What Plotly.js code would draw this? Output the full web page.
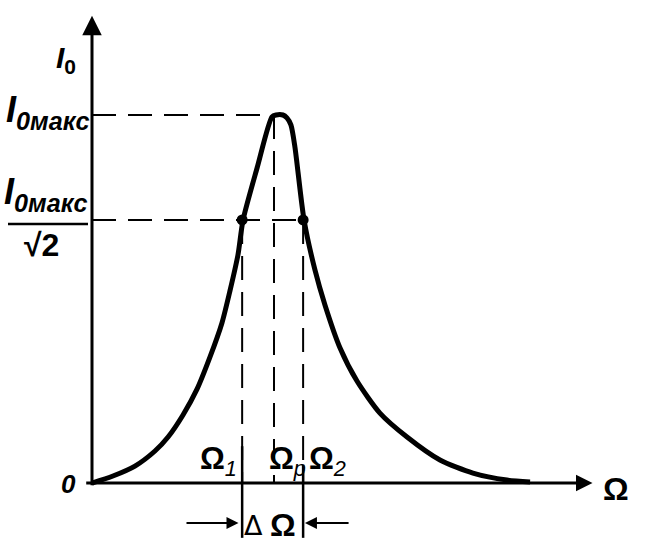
<!DOCTYPE html>
<html>
<head>
<meta charset="utf-8">
<script src="https://cdn.plot.ly/plotly-3.0.1.min.js"></script>
<style>html,body{margin:0;padding:0;background:#fff}#chart{width:645px;height:554px}</style>
</head>
<body>
<div id="chart"></div>
<script>
// Resonance curve I0(Ω) (Ω in units of Ωp, I0 in units of I0max)
var omega = [0, 0.115, 0.236, 0.346, 0.418, 0.500, 0.577, 0.648, 0.714, 0.758, 0.802, 0.830, 0.907, 0.989, 1.011, 1.049, 1.071, 1.093, 1.115, 1.165, 1.225, 1.280, 1.363, 1.456, 1.582, 1.731, 1.912, 2.093, 2.280, 2.407];
var current = [0, 0.019, 0.046, 0.087, 0.125, 0.185, 0.255, 0.342, 0.435, 0.522, 0.620, 0.715, 0.856, 0.995, 1.0, 1.0, 0.992, 0.973, 0.913, 0.715, 0.579, 0.484, 0.367, 0.277, 0.190, 0.125, 0.0625, 0.027, 0.008, 0.003];

var omega1 = 0.825;      // Ω1
var omegaRes = 1.0;      // Ωp
var omega2 = 1.160;      // Ω2
var iMax = 1.0;          // I0max
var iHalf = 0.715;       // I0max/√2
var xAxisEnd = 2.75;
var yAxisEnd = 1.27;
var lowerMark = -0.149;  // bottom of ΔΩ marks
var deltaY = -0.109;     // level of ΔΩ arrows

var W = 645, H = 554;
var fontFam = 'Liberation Sans, Arial, sans-serif';
var black = '#000';

var traces = [
  {x: omega, y: current, mode: 'lines', line: {color: black, width: 5, shape: 'spline', smoothing: 0.7}, hoverinfo: 'skip'},
  {x: [omega1, omega2], y: [iHalf, iHalf], mode: 'markers', marker: {color: black, size: 11}, hoverinfo: 'skip'}
];

var dash = '24px,12px';
var shapes = [
  {type: 'line', x0: 0, x1: 0.99, y0: iMax, y1: iMax, line: {color: black, width: 2, dash: dash}},
  {type: 'line', x0: 0, x1: omega2, y0: iHalf, y1: iHalf, line: {color: black, width: 2, dash: dash}},
  {type: 'line', x0: omegaRes, x1: omegaRes, y0: iMax, y1: 0, line: {color: black, width: 2, dash: dash}},
  {type: 'line', x0: omega1, x1: omega1, y0: iHalf, y1: 0, line: {color: black, width: 2, dash: dash}},
  {type: 'line', x0: omega2, x1: omega2, y0: iHalf, y1: 0, line: {color: black, width: 2, dash: dash}},
  {type: 'line', x0: omega1, x1: omega1, y0: 0.1, y1: lowerMark, line: {color: black, width: 2.5}},
  {type: 'line', x0: omega2, x1: omega2, y0: 0.05, y1: lowerMark, line: {color: black, width: 2.5}},
  {type: 'line', xref: 'paper', yref: 'paper', x0: 8 / W, x1: 88 / W, y0: 1 - 224 / H, y1: 1 - 224 / H, line: {color: black, width: 2.5}}
];

function arrow(xt, yt, xs, ys, w, size) {
  return {x: xt, y: yt, ax: xs, ay: ys, xref: 'x', yref: 'y', axref: 'x', ayref: 'y',
    text: '', showarrow: true, arrowhead: 2, arrowsize: size, arrowwidth: w, arrowcolor: black, standoff: 0};
}
function label(px, py, txt, size, anchor, fam) {
  return {x: px / W, y: 1 - py / H, xref: 'paper', yref: 'paper', text: txt, showarrow: false,
    xanchor: anchor || 'center', yanchor: 'middle', font: {family: fam || fontFam, size: size, color: black}};
}

var annotations = [
  arrow(0, yAxisEnd, 0, -0.01, 3, 1.3),
  arrow(xAxisEnd, 0, -0.04, 0, 3, 1.1),
  arrow(omega1 - 0.02, deltaY, 0.511, deltaY, 2, 1.2),
  arrow(omega2 + 0.01, deltaY, 1.418, deltaY, 2, 1.2),
  label(66, 60, '<b><i>I</i><sub>0</sub></b>', 30),
  label(91, 112, '<b><i>I</i><sub><i>0макс</i></sub></b>', 36, 'right'),
  label(89, 194, '<b><i>I</i><sub><i>0макс</i></sub></b>', 36, 'right'),
  label(41, 245, '<b>√2</b>', 32),
  label(68, 484, '<b><i>0</i></b>', 26),
  label(616, 489, '<b>Ω</b>', 32),
  label(218, 461, '<b>Ω</b><sub><i>1</i></sub>', 31),
  label(287, 461, '<b>Ω</b><sub><i>p</i></sub>', 31),
  label(327, 461, '<b>Ω</b><sub><i>2</i></sub>', 31),
  label(253, 525, 'Δ', 27, 'center', 'DejaVu Sans, sans-serif'),
  label(283, 525, '<b>Ω</b>', 32)
];

var layout = {
  width: W, height: H,
  margin: {l: 0, r: 0, t: 0, b: 0},
  paper_bgcolor: '#fff', plot_bgcolor: '#fff',
  showlegend: false,
  xaxis: {range: [-0.5055, 3.0385], visible: false, fixedrange: true},
  yaxis: {range: [-0.1929, 1.3125], visible: false, fixedrange: true},
  shapes: shapes,
  annotations: annotations
};

Plotly.newPlot('chart', traces, layout, {displayModeBar: false, staticPlot: true});
</script>
</body>
</html>
